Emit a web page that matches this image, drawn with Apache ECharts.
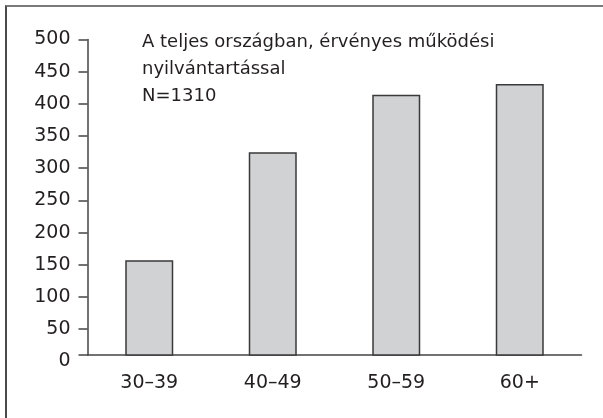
<!DOCTYPE html>
<html>
<head>
<meta charset="utf-8">
<script src="https://cdn.jsdelivr.net/npm/echarts@6/dist/echarts.min.js"></script>
<style>
  html, body { margin: 0; padding: 0; background: #fff; }
  #chart { width: 603px; height: 418px; position: relative; }
  #frame { position: absolute; left: 5px; top: 5px; width: 600px; height: 420px;
           border-left: 2px solid #4a4a4a; border-top: 2px solid #7a7a7a; pointer-events: none; }
</style>
</head>
<body>
<div id="chart"></div>
<div id="frame"></div>
<script>
const categories = ['30–39', '40–49', '50–59', '60+'];
const values = [157, 325, 414, 431];
const tickLabels = [0, 50, 100, 150, 200, 250, 300, 350, 400, 450, 500];
const titleLines = ['A teljes országban, érvényes működési', 'nyilvántartással', 'N=1310'];

const FONT = 'DejaVu Sans';
const TXT = '#231f20';
const LINE = '#444';
const yMax = 500;
const crossing = 9.9; // value where the category axis crosses (as drawn in the source)

const chart = echarts.init(document.getElementById('chart'), null, { renderer: 'canvas' });
chart.setOption({
  animation: false,
  backgroundColor: '#fff',
  title: {
    text: titleLines.join('\n'),
    left: 137, top: 24,
    textStyle: { fontFamily: FONT, fontSize: 18, fontWeight: 'normal', color: TXT, lineHeight: 27 }
  },
  grid: [
    { left: 87.5, right: 21.5, top: 39.5, bottom: 56.6 },
    { left: 87.5, right: 21.5, top: 39.5, bottom: 63 }
  ],
  xAxis: [
    { type: 'category', gridIndex: 0, data: categories, show: false },
    {
      type: 'category', gridIndex: 1, data: categories,
      axisLine: { lineStyle: { color: LINE, width: 1.5 } },
      axisTick: { show: false },
      axisLabel: { margin: 19, fontFamily: FONT, fontSize: 19, color: TXT }
    }
  ],
  yAxis: [
    {
      type: 'value', gridIndex: 0, min: tickLabels[0], max: yMax, interval: 50,
      axisLine: { show: false }, axisTick: { show: false }, splitLine: { show: false },
      axisLabel: { margin: 17, fontFamily: FONT, fontSize: 19, color: TXT }
    },
    {
      type: 'value', gridIndex: 1, min: crossing, max: yMax,
      axisLine: { show: true, lineStyle: { color: LINE, width: 1.5 } },
      axisTick: { show: true, length: 9, lineStyle: { color: LINE, width: 1.5 },
                  customValues: [crossing].concat(tickLabels.slice(1)) },
      axisLabel: { show: false },
      splitLine: { show: false }
    }
  ],
  series: [{
    type: 'bar',
    xAxisIndex: 1, yAxisIndex: 1,
    data: values,
    barWidth: 48,
    itemStyle: { color: '#d1d2d4', borderColor: '#3a3a3a', borderWidth: 1.5 }
  }]
});
</script>
</body>
</html>
